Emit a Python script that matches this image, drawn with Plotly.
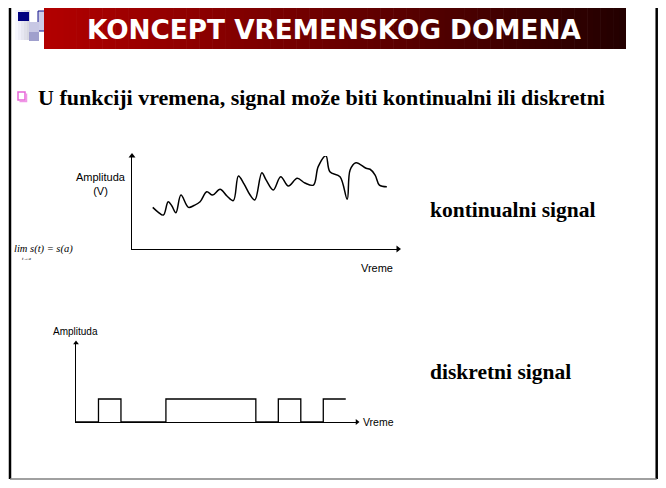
import plotly.graph_objects as go

OFF = 8  # page body margin of the browser view
W, H = 666 - 2 * OFF, 488 - 2 * OFF  # keep the page free of scrollbars

# ---------------- data ----------------
# continuous signal (time, amplitude in V)
t_cont = [0.78, 0.98, 1.18, 1.36, 1.50, 1.65, 1.84, 2.12, 2.33, 2.56, 2.81, 3.03,
          3.31, 3.57, 3.81, 4.00, 4.21, 4.44, 4.62, 4.88, 5.04, 5.31, 5.59, 5.88,
          6.21, 6.50, 6.82, 7.00, 7.29, 7.44, 7.82, 8.09, 8.20, 8.42, 8.80, 8.95,
          9.14, 9.30, 9.58]
amp_cont = [1.79, 1.59, 1.46, 2.03, 1.85, 1.56, 2.32, 1.79, 1.87, 2.03, 2.46, 2.32,
            2.57, 2.28, 2.08, 3.14, 2.80, 2.32, 2.11, 3.28, 2.97, 2.54, 3.11, 2.71,
            3.04, 2.84, 2.75, 3.54, 4.01, 3.32, 3.11, 2.14, 3.40, 3.71, 3.47, 3.43,
            3.18, 2.75, 2.68]

# discrete signal (time, level)
t_disc = [0, 1, 2, 4, 8, 9, 10, 11, 12]
lvl_disc = [0, 1, 0, 1, 0, 1, 0, 1, 1]

title_text = "KONCEPT VREMENSKOG DOMENA"
bullet_text = "U funkciji vremena, signal može biti kontinualni ili diskretni"
cont_label = "kontinualni signal"
disc_label = "diskretni signal"
y_label_cont = "Amplituda<br>(V)"
y_label_disc = "Amplituda"
x_label = "Vreme"


def px(x):
    return (x - OFF) / W


def py(y):
    return 1 - (y - OFF) / H


fig = go.Figure()

fig.add_trace(go.Scatter(x=t_cont, y=amp_cont, mode="lines",
                         line=dict(color="black", width=1.5, shape="spline", smoothing=1.0),
                         xaxis="x", yaxis="y", cliponaxis=False, hoverinfo="skip"))
fig.add_trace(go.Scatter(x=t_disc, y=lvl_disc, mode="lines",
                         line=dict(color="black", width=1.3, shape="hv"),
                         xaxis="x2", yaxis="y2", cliponaxis=False, hoverinfo="skip"))

# arrowheads at axis ends
fig.add_trace(go.Scatter(x=[10], y=[0], mode="markers", marker=dict(symbol="triangle-right", size=6, color="black"),
                         xaxis="x", yaxis="y", cliponaxis=False, hoverinfo="skip"))
fig.add_trace(go.Scatter(x=[0], y=[4], mode="markers", marker=dict(symbol="triangle-up", size=6, color="black"),
                         xaxis="x", yaxis="y", cliponaxis=False, hoverinfo="skip"))
fig.add_trace(go.Scatter(x=[12.5], y=[0], mode="markers", marker=dict(symbol="triangle-right", size=5, color="black"),
                         xaxis="x2", yaxis="y2", cliponaxis=False, hoverinfo="skip"))
fig.add_trace(go.Scatter(x=[0], y=[79 / 23], mode="markers", marker=dict(symbol="triangle-up", size=5, color="black"),
                         xaxis="x2", yaxis="y2", cliponaxis=False, hoverinfo="skip"))

ax_common = dict(showline=True, linecolor="black", linewidth=1.3, showticklabels=False,
                 showgrid=False, zeroline=False, ticks="", fixedrange=True)

shapes = []
# title bar gradient
x0b, x1b, y0b, y1b = 44, 626, 7, 49
N = 90
c0 = (178, 0, 0)
c1 = (35, 0, 0)
for i in range(N):
    f = i / (N - 1)
    col = tuple(int(round(c0[k] + (c1[k] - c0[k]) * f)) for k in range(3))
    xa = x0b + (x1b - x0b) * i / N
    xb = x0b + (x1b - x0b) * (i + 1) / N + 0.6
    shapes.append(dict(type="rect", xref="paper", yref="paper", x0=px(xa), x1=px(min(xb, x1b)),
                       y0=py(y1b), y1=py(y0b), line=dict(width=0),
                       fillcolor="rgb(%d,%d,%d)" % col, layer="above"))


# decorative logo squares
def rect(xa, ya, xb, yb, fill, line=None, lw=0):
    d = dict(type="rect", xref="paper", yref="paper", x0=px(xa), x1=px(xb), y0=py(yb), y1=py(ya),
             fillcolor=fill, line=dict(width=lw, color=line or fill), layer="below")
    shapes.append(d)


for i in range(6):
    g = 255 - i * 8
    rect(12 + i * 3, 10, 15 + i * 3, 40, "rgb(%d,%d,%d)" % (g, g, min(255, g + 10)))
rect(18, 12, 29, 21, "rgb(0,0,128)")
rect(38, 11, 48, 31, "rgb(205,205,232)", "rgb(20,20,140)", 1)
rect(29, 22, 39, 32, "rgb(200,200,228)")
rect(29, 32, 39, 41, "rgb(160,160,205)")
rect(49, 3, 59, 7, "rgb(195,195,228)")

# bullet
shapes.append(dict(type="rect", xref="paper", yref="paper", x0=px(18), x1=px(25), y0=py(100), y1=py(92),
                   line=dict(color="rgb(230,100,215)", width=1.5), fillcolor="white"))
shapes.append(dict(type="path", xref="paper", yref="paper",
                   path="M %f %f L %f %f L %f %f" % (px(19.5), py(101.5), px(26.5), py(101.5), px(26.5), py(93.5)),
                   line=dict(color="rgb(240,150,230)", width=1.5)))

# slide border
XR = min(659, OFF + W - 1.3)
YB = min(487, OFF + H - 1)
for (xa, ya, xb, yb, c) in [(10, 3, XR, 3, "black"), (10, 3, 10, YB, "black"),
                            (XR, 3, XR, YB, "black"), (10, YB, XR, YB, "gray")]:
    shapes.append(dict(type="line", xref="paper", yref="paper", x0=px(xa), x1=px(xb), y0=py(ya), y1=py(yb),
                       line=dict(color=c, width=2.5 if c == "black" else 1.5)))

annotations = []


def ann(text, x, y, size, family, color="black", xanchor="left", yanchor="middle"):
    annotations.append(dict(text=text, x=px(x), y=py(y), xref="paper", yref="paper", showarrow=False,
                            xanchor=xanchor, yanchor=yanchor, font=dict(size=size, family=family, color=color),
                            align="center"))


ann("<b>%s</b>" % title_text, 334, 30, 26.3, "DejaVu Sans", "white", "center")
ann("<b>%s</b>" % bullet_text, 36, 97, 22, "Liberation Serif")
ann("<b>%s</b>" % cont_label, 428, 210, 21.5, "Liberation Serif")
ann("<b>%s</b>" % disc_label, 428, 372, 21.5, "Liberation Serif")
ann(y_label_cont, 101, 184, 11, "Liberation Sans", xanchor="center")
ann(x_label, 377, 268, 11, "Liberation Sans", xanchor="center")
ann(y_label_disc, 75, 331, 10, "Liberation Sans", xanchor="center")
ann(x_label, 378, 422, 10.5, "Liberation Sans", xanchor="center")
ann("<i>lim s(t) = s(a)</i>", 12, 249, 10.5, "Liberation Serif")
ann("<i>t→a</i>", 20, 258, 5, "Liberation Serif")

fig.update_layout(
    width=W, height=H, margin=dict(l=0, r=0, t=0, b=0),
    paper_bgcolor="white", plot_bgcolor="rgba(0,0,0,0)", showlegend=False,
    xaxis=dict(domain=[px(132), px(398)], range=[0, 10], anchor="y", **ax_common),
    yaxis=dict(domain=[py(249), py(156)], range=[0, 4], anchor="x", **ax_common),
    xaxis2=dict(domain=[px(76), px(357)], range=[0, 12.5], anchor="y2", **ax_common),
    yaxis2=dict(domain=[py(422), py(343)], range=[0, 79 / 23], anchor="x2", **ax_common),
    shapes=shapes, annotations=annotations,
)

fig.write_html("out.html")
